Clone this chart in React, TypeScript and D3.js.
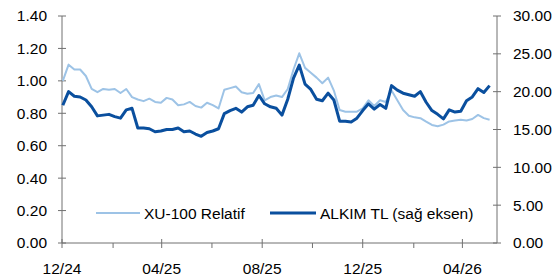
import React from 'react';
import * as d3 from 'd3';

// weekly closes, Dec 2024 -> May 2026
const startDate = new Date(2024, 11, 2);
const xu100Relatif = [
  1.0, 1.1, 1.07, 1.07, 1.03, 0.95, 0.93, 0.95, 0.945, 0.95,
  0.925, 0.95, 0.9, 0.885, 0.875, 0.89, 0.87, 0.865, 0.895, 0.885,
  0.85, 0.855, 0.87, 0.845, 0.835, 0.865, 0.85, 0.83, 0.945, 0.955,
  0.965, 0.93, 0.92, 0.925, 0.98, 0.88, 0.9, 0.91, 0.9, 0.95,
  1.07, 1.17, 1.08, 1.05, 1.02, 0.985, 1.02, 0.94, 0.82, 0.81,
  0.81, 0.81, 0.83, 0.88, 0.845, 0.88, 0.87, 0.94, 0.88, 0.82,
  0.785, 0.775, 0.77, 0.748, 0.728, 0.72, 0.73, 0.75, 0.755, 0.76,
  0.755, 0.765, 0.79, 0.77, 0.76,
];
const alkimTL = [
  18.2, 20.0, 19.4, 19.3, 18.9, 18.0, 16.8, 16.9, 17.0, 16.7,
  16.5, 17.6, 17.8, 15.2, 15.2, 15.1, 14.7, 14.8, 15.0, 15.0,
  15.2, 14.7, 14.8, 14.4, 14.1, 14.6, 14.8, 15.1, 17.1, 17.5,
  17.8, 17.3, 18.0, 18.2, 19.5, 18.4, 18.0, 17.8, 16.9, 19.0,
  21.8, 23.5, 21.0, 20.3, 19.0, 18.8, 19.8, 18.9, 16.1, 16.1,
  16.0, 16.5, 17.5, 18.4, 17.7, 18.3, 17.8, 20.8, 20.2, 19.8,
  19.6, 19.4, 20.0, 18.6, 17.5, 17.0, 16.4, 17.6, 17.3, 17.4,
  18.8, 19.3, 20.4, 19.9, 20.8,
];
const leftTicks = [0, 0.2, 0.4, 0.6, 0.8, 1.0, 1.2, 1.4];
const rightTicks = [0, 5, 10, 15, 20, 25, 30];
const seriesNames = ['XU-100 Relatif', 'ALKIM TL (sağ eksen)'];

const W = 558;
const H = 280;
const font = '"Liberation Sans", Arial, sans-serif';
const light = '#9dc3e6';
const dark = '#0a4f9e';
const axisColor = '#707070';

export default function App() {
  const dates = xu100Relatif.map((_, i) => d3.timeWeek.offset(startDate, i));
  const x = d3.scaleTime()
    .domain([new Date(2024, 11, 1), new Date(2026, 4, 13)])
    .range([62, 497]);
  const yL = d3.scaleLinear().domain([0, 1.4]).range([243, 16]);
  const yR = d3.scaleLinear().domain([0, 30]).range([243, 16]);

  const lineL = d3.line<number>()
    .x((_, i) => x(dates[i]))
    .y(d => yL(d));
  const lineR = d3.line<number>()
    .x((_, i) => x(dates[i]))
    .y(d => yR(d));

  // tick every 2 months, label every 4
  const ticks = d3.timeMonth.range(new Date(2024, 11, 1), new Date(2026, 4, 14), 2);
  const isMajor = (d: Date) => (d.getFullYear() * 12 + d.getMonth() - (2024 * 12 + 11)) % 4 === 0;
  const fmt = d3.timeFormat('%m/%y');

  return (
    <svg width={W} height={H} style={{ position: 'absolute', left: 0, top: 0 }}
      fontFamily={font} fontSize={15.5} fill="#000">
      {/* left axis */}
      <line x1={62} x2={62} y1={yL(1.4)} y2={yL(0)} stroke={axisColor} />
      {leftTicks.map(t => (
        <g key={t}>
          <line x1={58} x2={66} y1={yL(t)} y2={yL(t)} stroke={axisColor} />
          <text x={47} y={yL(t)} dy="0.35em" textAnchor="end">{t.toFixed(2)}</text>
        </g>
      ))}
      {/* right axis */}
      <line x1={497} x2={497} y1={yR(30)} y2={yR(0)} stroke={axisColor} />
      {rightTicks.map(t => (
        <g key={t}>
          <line x1={493} x2={501} y1={yR(t)} y2={yR(t)} stroke={axisColor} />
          <text x={513} y={yR(t)} dy="0.35em" textAnchor="start">{t.toFixed(2)}</text>
        </g>
      ))}
      {/* x axis */}
      <line x1={62} x2={497} y1={243} y2={243} stroke={axisColor} />
      {ticks.map(d => (
        <g key={+d}>
          <line x1={x(d)} x2={x(d)} y1={isMajor(d) ? 239 : 243} y2={248} stroke={axisColor} />
          {isMajor(d) && (
            <text x={x(d)} y={274} textAnchor="middle">{fmt(d)}</text>
          )}
        </g>
      ))}
      {/* series */}
      <path d={lineL(xu100Relatif) ?? ''} fill="none" stroke={light} strokeWidth={2} strokeLinejoin="round" />
      <path d={lineR(alkimTL) ?? ''} fill="none" stroke={dark} strokeWidth={3} strokeLinejoin="round" />
      {/* legend */}
      <line x1={96} x2={140} y1={213} y2={213} stroke={light} strokeWidth={2} />
      <text x={144} y={218.5}>{seriesNames[0]}</text>
      <line x1={270} x2={316} y1={213} y2={213} stroke={dark} strokeWidth={3} />
      <text x={320} y={218.5}>{seriesNames[1]}</text>
    </svg>
  );
}
